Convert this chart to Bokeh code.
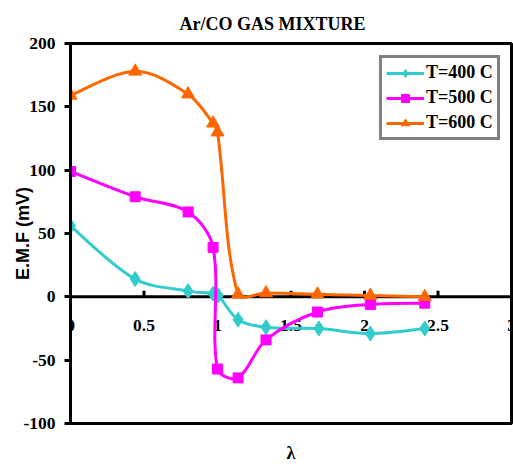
import numpy as np
from bokeh.plotting import figure
from bokeh.models import Range1d, Legend, LegendItem, FixedTicker, Span
from bokeh.core.properties import value
from bokeh.embed import file_html
from bokeh.resources import INLINE

title_text = "Ar/CO GAS MIXTURE"
x_label = "λ"
y_label = "E.M.F (mV)"
x_ticks = [0, 0.5, 1, 1.5, 2, 2.5, 3]
x_tick_labels = ["0", "0.5", "1", "1.5", "2", "2.5", "3"]
y_ticks = [-100, -50, 0, 50, 100, 150, 200]
y_tick_labels = ["-100", "-50", "0", "50", "100", "150", "200"]

names = ["T=400 C", "T=500 C", "T=600 C"]
x400 = [0, 0.44, 0.80, 0.97, 1.005, 1.14, 1.33, 1.69, 2.04, 2.41]
y400 = [56, 14, 4.5, 2.5, 1, -18, -24, -25, -29, -25]
x500 = [0, 0.44, 0.80, 0.97, 1.00, 1.14, 1.33, 1.68, 2.04, 2.41]
y500 = [99, 79, 67, 39, -57, -64, -34, -12, -6, -5]
x600 = [0, 0.44, 0.80, 0.97, 1.00, 1.14, 1.33, 1.68, 2.04, 2.41]
y600 = [159, 178, 160, 137, 130, 2, 3, 2, 1, 0]

colors = ["#33CCCC", "#FF00FF", "#FF6600"]
markers = ["diamond", "square", "triangle"]
msizes = [15, 10, 13]

W, H = 513, 466
BL, BR, BT, BB = 70, 2, 43, 43
XMIN, XMAX, YMIN, YMAX = 0, 3, -100, 200
SX = (W - BL - BR) / (XMAX - XMIN)
SY = (H - BT - BB) / (YMAX - YMIN)

p = figure(width=W, height=H, output_backend="svg", toolbar_location=None,
           x_range=Range1d(XMIN, XMAX), y_range=Range1d(YMIN, YMAX),
           min_border_left=BL, min_border_right=BR, min_border_top=BT,
           min_border_bottom=BB)
p.background_fill_color = "white"
p.border_fill_color = "white"
p.outline_line_color = "black"
p.outline_line_width = 3
p.xgrid.visible = False
p.ygrid.visible = False

p.title.text = title_text
p.title.text_font = "Liberation Serif"
p.title.text_font_style = "bold"
p.title.text_font_size = "18px"
p.title.text_color = "black"
p.title.align = "left"
p.title.offset = 109
p.title.standoff = 19

ya = p.yaxis[0]
ya.ticker = FixedTicker(ticks=y_ticks, minor_ticks=[])
ya.major_label_overrides = {t: l for t, l in zip(y_ticks, y_tick_labels)}
ya.major_label_text_font = "Liberation Serif"
ya.major_label_text_font_style = "bold"
ya.major_label_text_font_size = "17.5px"
ya.major_label_text_color = "black"
ya.major_label_standoff = 9
ya.axis_line_width = 3
ya.major_tick_line_width = 3
ya.major_tick_out = 6
ya.major_tick_in = 0
ya.minor_tick_line_color = None
ya.axis_label = y_label
ya.axis_label_text_font = "Liberation Sans"
ya.axis_label_text_font_style = "bold"
ya.axis_label_text_font_size = "18px"
ya.axis_label_text_color = "black"
ya.axis_label_standoff = -13

xa = p.xaxis[0]
xa.ticker = FixedTicker(ticks=[], minor_ticks=[])
xa.axis_line_color = None
xa.major_tick_line_color = None
xa.minor_tick_line_color = None
xa.major_tick_out = 0
xa.major_tick_in = 0
xa.major_label_standoff = 0
xa.major_label_text_font_size = "0px"
xa.axis_label = x_label
xa.axis_label_text_font = "Liberation Serif"
xa.axis_label_text_font_style = "bold"
xa.axis_label_text_font_size = "18px"
xa.axis_label_text_color = "black"
xa.axis_label_standoff = 19

# x axis drawn through y = 0
p.add_layout(Span(location=0, dimension="width", line_color="black",
                  line_width=3, level="underlay"))
tick_len = 6 / SY
p.segment(x0=x_ticks, y0=[0] * len(x_ticks), x1=x_ticks,
          y1=[tick_len] * len(x_ticks), line_color="black", line_width=3)
p.text(x=x_ticks, y=[0] * len(x_ticks), text=x_tick_labels, y_offset=29,
       text_align="center", text_baseline="middle",
       text_font=value("Liberation Serif"), text_font_style="bold",
       text_font_size="17.5px", text_color="black")


def smooth(xs, ys):
    P = np.column_stack([np.asarray(xs, float) * SX, np.asarray(ys, float) * SY])
    n = len(P)
    d = np.linalg.norm(np.diff(P, axis=0), axis=1)
    t = [P[min(i + 1, n - 1)] - P[max(i - 1, 0)] for i in range(n)]
    c0, c1 = [], []
    for i in range(n - 1):
        if i == 0:
            a = P[i] + t[i] / 6
        else:
            a = P[i] + t[i] / 3 * d[i] / (d[i - 1] + d[i])
        if i + 1 == n - 1:
            b = P[i + 1] - t[i + 1] / 6
        else:
            b = P[i + 1] - t[i + 1] / 3 * d[i] / (d[i] + d[i + 1])
        c0.append(a)
        c1.append(b)
    c0 = np.array(c0)
    c1 = np.array(c1)
    return dict(x0=P[:-1, 0] / SX, y0=P[:-1, 1] / SY, x1=P[1:, 0] / SX,
                y1=P[1:, 1] / SY, cx0=c0[:, 0] / SX, cy0=c0[:, 1] / SY,
                cx1=c1[:, 0] / SX, cy1=c1[:, 1] / SY)


items = []
for name, xs, ys, c, m, s in zip(names, [x400, x500, x600],
                                 [y400, y500, y600], colors, markers, msizes):
    b = p.bezier(**smooth(xs, ys), line_color=c, line_width=3)
    sc = p.scatter(xs, ys, marker=m, size=s, fill_color=c, line_color=c)
    items.append(LegendItem(label=name, renderers=[b, sc]))

leg = Legend(items=items, location=(309, 283))
leg.border_line_color = "black"
leg.border_line_width = 3
leg.background_fill_color = "white"
leg.background_fill_alpha = 1
leg.label_text_font = "Liberation Serif"
leg.label_text_font_style = "bold"
leg.label_text_font_size = "18px"
leg.label_text_color = "black"
leg.glyph_width = 38
leg.glyph_height = 20
leg.label_height = 20
leg.spacing = 4
leg.padding = 4
leg.margin = 0
leg.label_standoff = 2
p.add_layout(leg)

open("out.html", "w").write(file_html(p, INLINE))
